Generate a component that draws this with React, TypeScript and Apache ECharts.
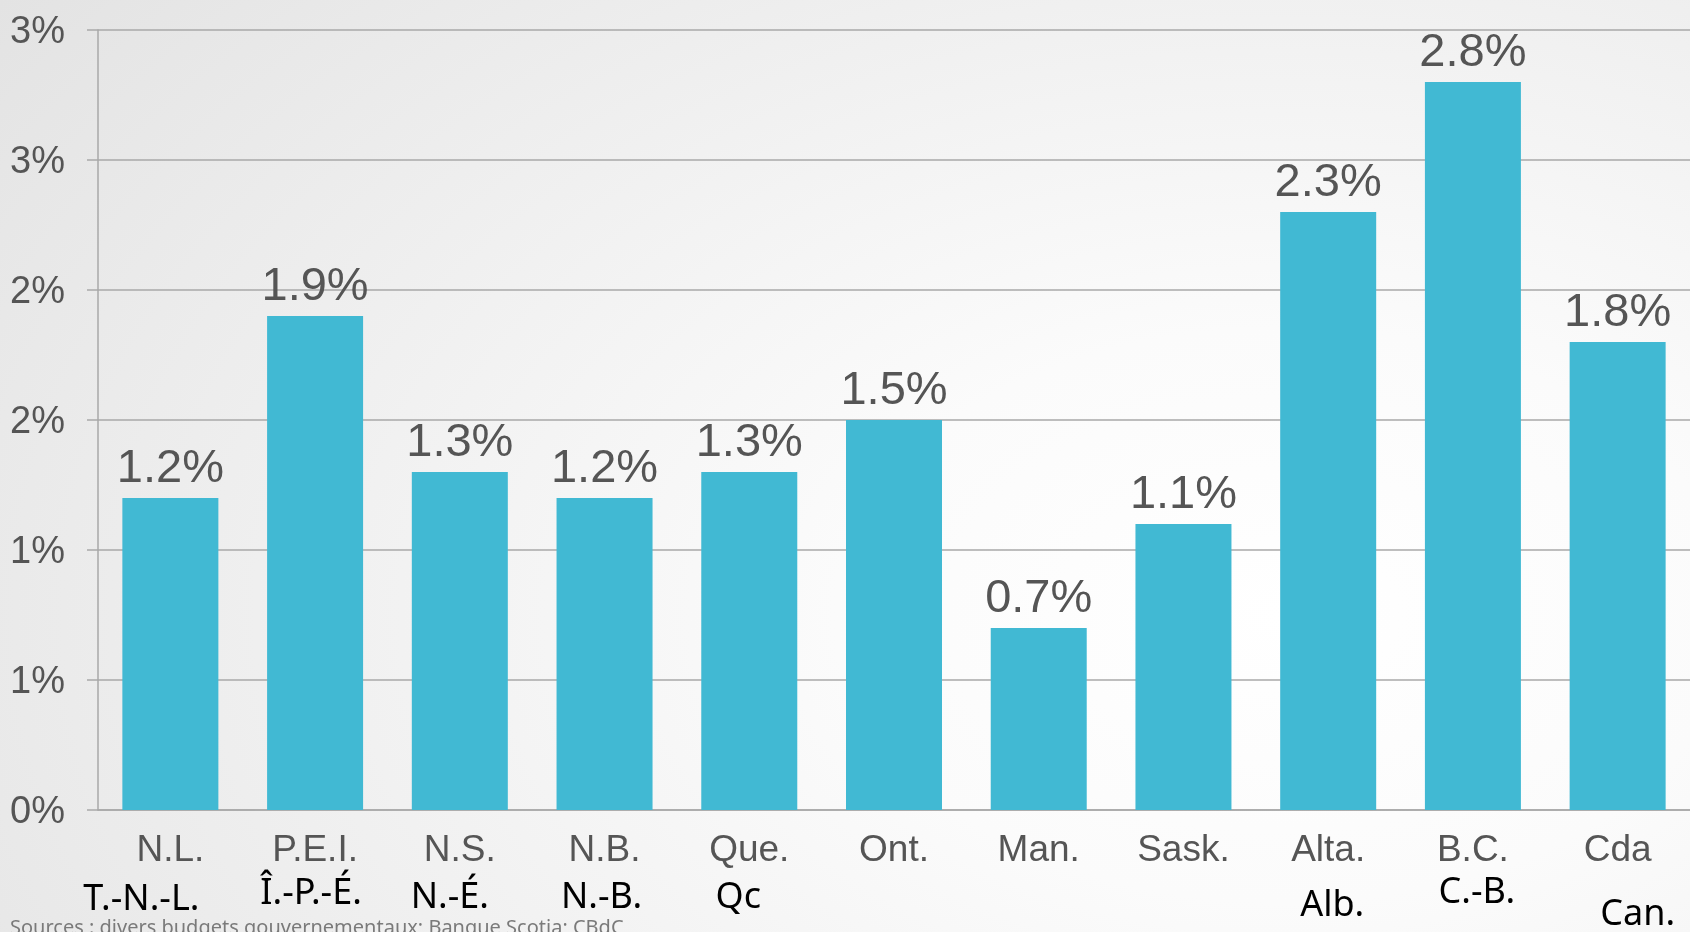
import React, { useEffect, useRef } from "react";
import * as echarts from "echarts";

const categories = ["N.L.", "P.E.I.", "N.S.", "N.B.", "Que.", "Ont.", "Man.", "Sask.", "Alta.", "B.C.", "Cda"];
const frenchLabels = ["T.-N.-L.", "Î.-P.-É.", "N.-É.", "N.-B.", "Qc", "", "", "", "Alb.", "C.-B.", "Can."];
const values = [1.2, 1.9, 1.3, 1.2, 1.3, 1.5, 0.7, 1.1, 2.3, 2.8, 1.8];
const yTickLabels = ["0%", "1%", "1%", "2%", "2%", "3%", "3%"];
const sourceText = "Sources : divers budgets gouvernementaux; Banque Scotia; CBdC";

// layout for the French labels: [dx from category centre, y]
const frenchLayout: number[][] = [
  [-29, 896], [-4, 890], [-10, 894], [-3, 894], [-11, 894],
  [0, 0], [0, 0], [0, 0],
  [4, 902], [4, 889], [20, 911],
];

export default function App() {
  const ref = useRef<HTMLDivElement>(null);
  useEffect(() => {
    if (!ref.current) return;
    const chart = echarts.init(ref.current, null, { renderer: "svg" });
    const gray = "#555555";
    const lineGray = "#a8a8a8";
    chart.setOption({
      animation: false,
      backgroundColor: "transparent",
      grid: { left: 98, top: 30, width: 1595, height: 780 },
      xAxis: {
        type: "category",
        data: categories,
        axisLine: { show: true, lineStyle: { color: lineGray, width: 1.5 } },
        axisTick: { show: false },
        axisLabel: {
          fontSize: 37,
          color: gray,
          margin: 20,
          fontFamily: "'Liberation Sans', Arial, sans-serif",
        },
      },
      yAxis: {
        type: "value",
        min: 0,
        max: 3,
        interval: 0.5,
        axisLine: { show: true, lineStyle: { color: lineGray, width: 1.5 } },
        axisTick: { show: true, length: 11, lineStyle: { color: lineGray, width: 1.5 } },
        splitLine: { show: true, lineStyle: { color: lineGray, width: 1.5 } },
        axisLabel: {
          fontSize: 38,
          color: gray,
          margin: 33,
          fontFamily: "'Liberation Sans', Arial, sans-serif",
          formatter: (v: number) => yTickLabels[Math.round(v / 0.5)] ?? "",
        },
      },
      series: [
        {
          type: "bar",
          data: values,
          barWidth: 96,
          itemStyle: { color: "#41B9D3" },
          label: {
            show: true,
            position: "top",
            distance: 9,
            fontSize: 47,
            color: gray,
            fontFamily: "'Liberation Sans', Arial, sans-serif",
            formatter: (p: any) => p.value.toFixed(1) + "%",
          },
        },
      ],
    });

    const graphics: any[] = [];
    frenchLabels.forEach((t, i) => {
      if (!t) return;
      const cx = chart.convertToPixel({ xAxisIndex: 0 }, categories[i]) as number;
      graphics.push({
        type: "text",
        x: cx + frenchLayout[i][0],
        y: frenchLayout[i][1],
        style: {
          text: t,
          fill: "#000000",
          fontSize: 36,
          fontFamily: "'Noto Sans', sans-serif",
          align: "center",
          verticalAlign: "middle",
        },
      });
    });
    graphics.push({
      type: "text",
      x: 10,
      y: 916,
      style: {
        text: sourceText,
        fill: "#7a7a7a",
        fontSize: 20,
        fontFamily: "'Noto Sans', sans-serif",
        align: "left",
        verticalAlign: "top",
      },
    });
    chart.setOption({ graphic: graphics });

    return () => chart.dispose();
  }, []);

  return (
    <div
      style={{
        position: "fixed",
        left: 0,
        top: 0,
        width: 1690,
        height: 932,
        overflow: "hidden",
        background:
          "radial-gradient(ellipse 95% 110% at 76% 66%, #ffffff 0%, #fbfbfb 28%, #ededed 70%, #e3e3e3 100%)",
      }}
    >
      <div ref={ref} style={{ width: 1690, height: 932 }} />
    </div>
  );
}
